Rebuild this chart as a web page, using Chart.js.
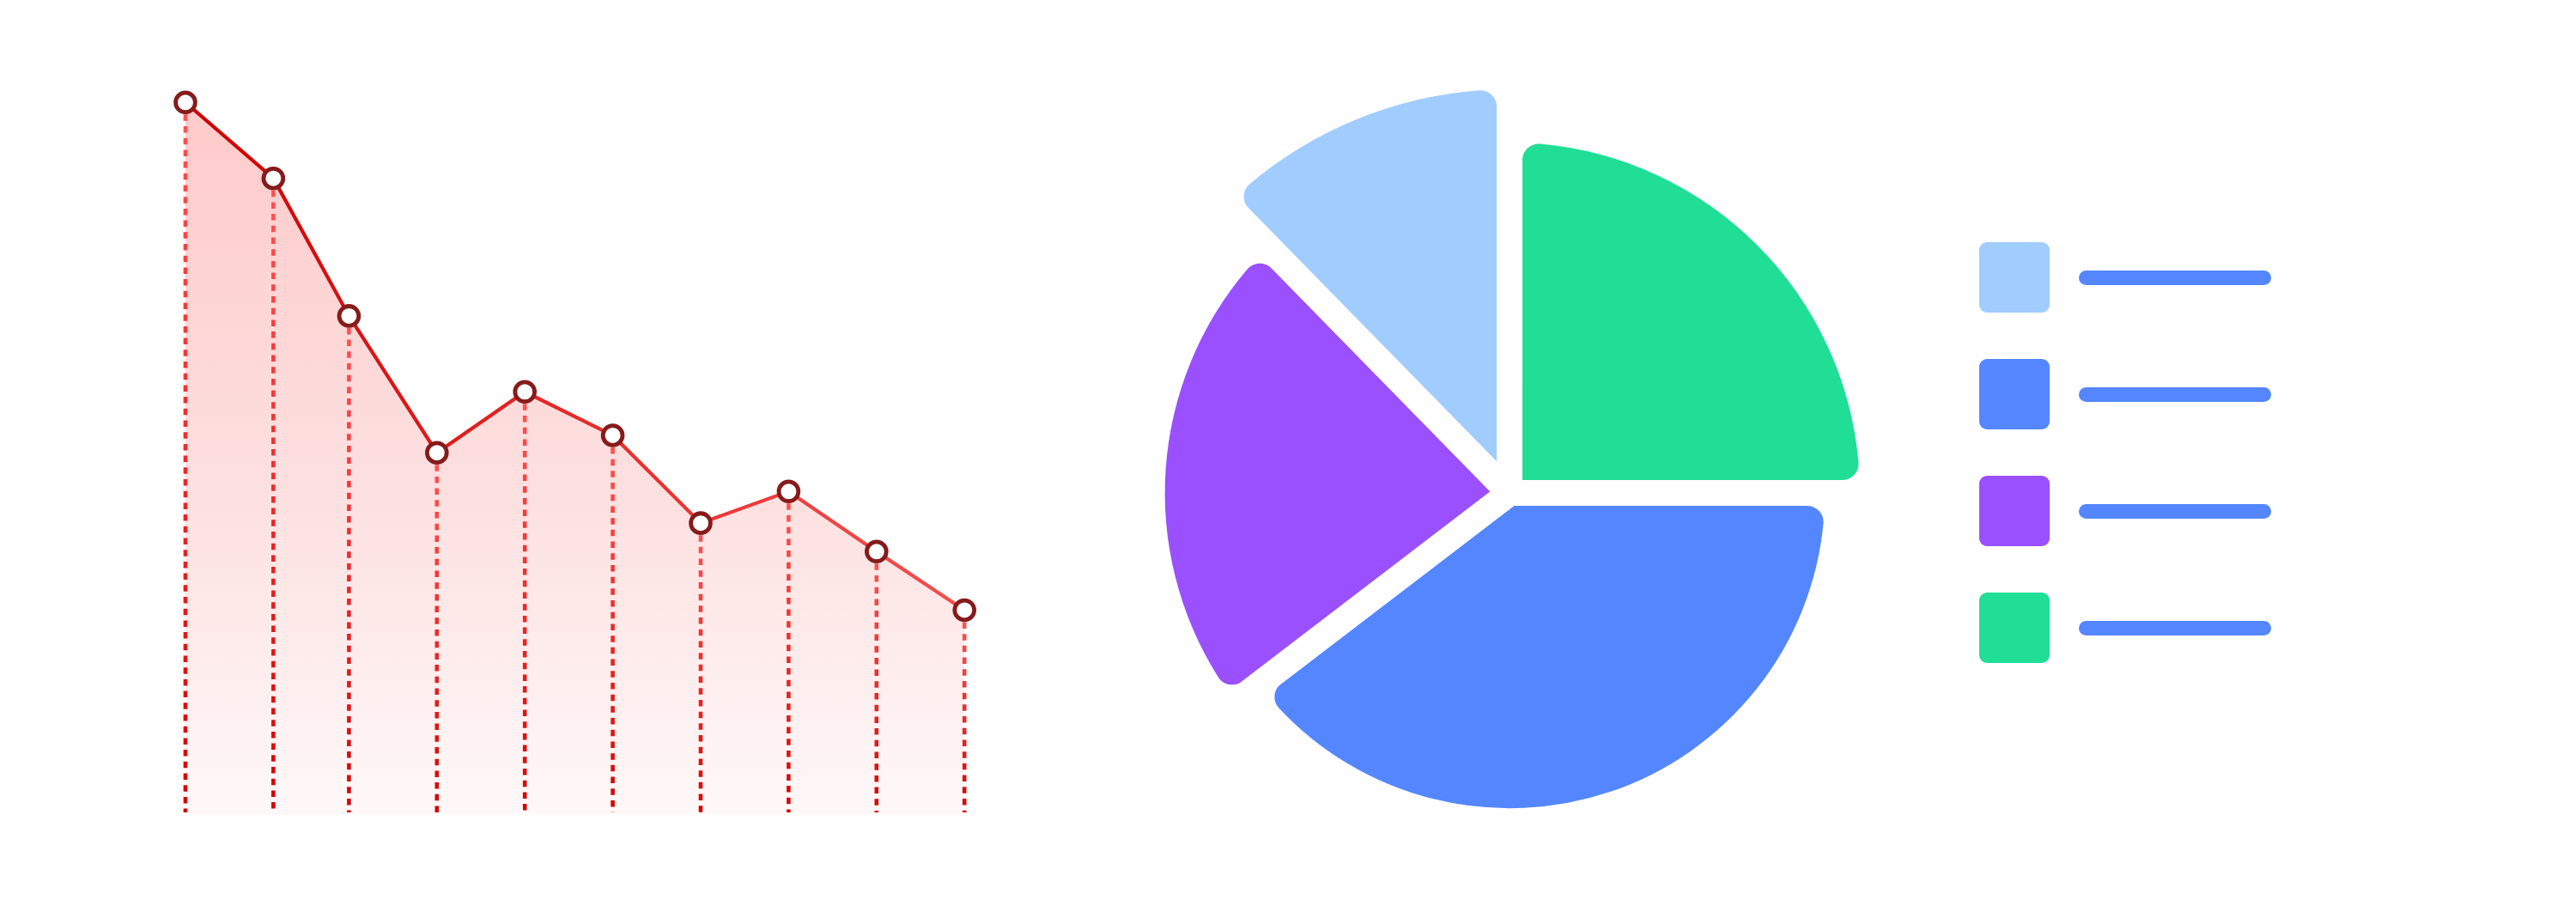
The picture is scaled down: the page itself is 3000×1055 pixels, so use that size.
<!DOCTYPE html>
<html>
<head>
<meta charset="utf-8">
<script src="https://cdn.jsdelivr.net/npm/chart.js@4.4.1/dist/chart.umd.min.js"></script>
<style>
  html, body { margin: 0; padding: 0; background: #ffffff; overflow: hidden; width: 3000px; height: 1055px; }
  #lineCanvas { position: absolute; left: 0; top: 0; }
  #pieCanvas { position: absolute; left: 1208px; top: 24px; }
  .lg-box { position: absolute; width: 82px; height: 82px; border-radius: 9px; }
  .lg-line { position: absolute; height: 17px; border-radius: 8.5px; background: #5487ff; }
</style>
</head>
<body>
<canvas id="lineCanvas" width="1300" height="1055"></canvas>
<canvas id="pieCanvas" width="1100" height="1100"></canvas>
<div id="legend"></div>
<script>
// ---- Line chart data ----
const pointX = [0.14, 1.14, 2, 3, 4, 5, 6, 7, 8, 9];
const pointY = [90.0, 80.4, 63.0, 45.7, 53.4, 47.9, 36.8, 40.8, 33.2, 25.8];

// ---- Pie data (clockwise from 12 o'clock) ----
const sliceNames = ['Green', 'Blue', 'Purple', 'Light blue'];
const sliceAngles = [90, 142.6, 83.0, 44.4];     // share of the circle, degrees
const sliceRadii = [76.9, 69.5, 75.7, 88.2];     // relative radius of each slice
const sliceColors = ['#20de96', '#5487ff', '#9a50ff', '#a1cdfe'];
const legendOrder = [3, 1, 2, 0];

// dashed drop lines under each point
const dropLines = {
  id: 'dropLines',
  beforeDatasetsDraw(chart) {
    const ctx = chart.ctx;
    const meta = chart.getDatasetMeta(0);
    const base = chart.scales.y.getPixelForValue(0);
    ctx.save();
    ctx.lineWidth = 4.6;
    ctx.lineCap = 'butt';
    ctx.setLineDash([7.5, 6.2]);
    meta.data.forEach(pt => {
      const top = pt.y + 14;
      const g = ctx.createLinearGradient(0, top, 0, base);
      g.addColorStop(0, '#ff5252');
      g.addColorStop(1, '#d30404');
      ctx.strokeStyle = g;
      ctx.beginPath();
      ctx.moveTo(pt.x, top);
      ctx.lineTo(pt.x, base - 2);
      ctx.stroke();
    });
    ctx.restore();
  }
};

function lineGradient(c) {
  const chart = c.chart;
  if (!chart.chartArea) return '#e02020';
  const xs = chart.scales.x;
  const g = chart.ctx.createLinearGradient(xs.getPixelForValue(pointX[0]), 0, xs.getPixelForValue(pointX[pointX.length - 1]), 0);
  g.addColorStop(0, '#cc0000');
  g.addColorStop(0.5, '#e62a2a');
  g.addColorStop(1, '#f44f4f');
  return g;
}
function fillGradient(c) {
  const chart = c.chart;
  if (!chart.chartArea) return 'rgba(255,200,200,0.5)';
  const ys = chart.scales.y;
  const top = ys.getPixelForValue(Math.max(...pointY));
  const bottom = ys.getPixelForValue(0);
  const g = chart.ctx.createLinearGradient(0, top, 0, bottom);
  g.addColorStop(0, '#ffcaca');
  g.addColorStop(0.55, '#fde0e0');
  g.addColorStop(1, '#fff8f8');
  return g;
}

new Chart(document.getElementById('lineCanvas'), {
  type: 'line',
  data: {
    datasets: [{
      data: pointX.map((x, i) => ({ x: x, y: pointY[i] })),
      borderColor: lineGradient,
      backgroundColor: fillGradient,
      borderWidth: 4.2,
      tension: 0,
      fill: 'origin',
      pointRadius: 11.4,
      pointHoverRadius: 11.4,
      pointBorderWidth: 4.8,
      pointBackgroundColor: '#ffffff',
      pointBorderColor: '#861b1b',
      clip: false
    }]
  },
  options: {
    responsive: false,
    animation: false,
    events: [],
    layout: { padding: { left: 99.2, right: 74.4, top: 27.2, bottom: 107 } },
    scales: {
      x: { type: 'linear', min: -1, max: 10, display: false },
      y: { min: 0, max: 100, display: false }
    },
    plugins: {
      legend: { display: false },
      tooltip: { enabled: false },
      filler: { drawTime: 'beforeDatasetsDraw' }
    }
  },
  plugins: [dropLines]
});

new Chart(document.getElementById('pieCanvas'), {
  type: 'polarArea',
  data: {
    labels: sliceNames,
    datasets: [{
      data: sliceRadii,
      angle: sliceAngles,
      backgroundColor: sliceColors,
      borderColor: '#ffffff',
      borderWidth: 30,
      borderRadius: 34,
      clip: false
    }]
  },
  options: {
    responsive: false,
    animation: false,
    events: [],
    layout: { padding: 0 },
    scales: { r: { min: 0, max: 100, display: false, startAngle: 0 } },
    plugins: { legend: { display: false }, tooltip: { enabled: false } }
  }
});

// legend (colour swatches with placeholder bars)
const legend = document.getElementById('legend');
legendOrder.forEach((idx, row) => {
  const top = 282.3 + row * 136;
  const box = document.createElement('div');
  box.className = 'lg-box';
  box.style.left = '2304.5px';
  box.style.top = top + 'px';
  box.style.background = sliceColors[idx];
  legend.appendChild(box);
  const line = document.createElement('div');
  line.className = 'lg-line';
  line.style.left = '2421px';
  line.style.width = '224px';
  line.style.top = (top + 41 - 8.5) + 'px';
  legend.appendChild(line);
});
</script>
</body>
</html>
